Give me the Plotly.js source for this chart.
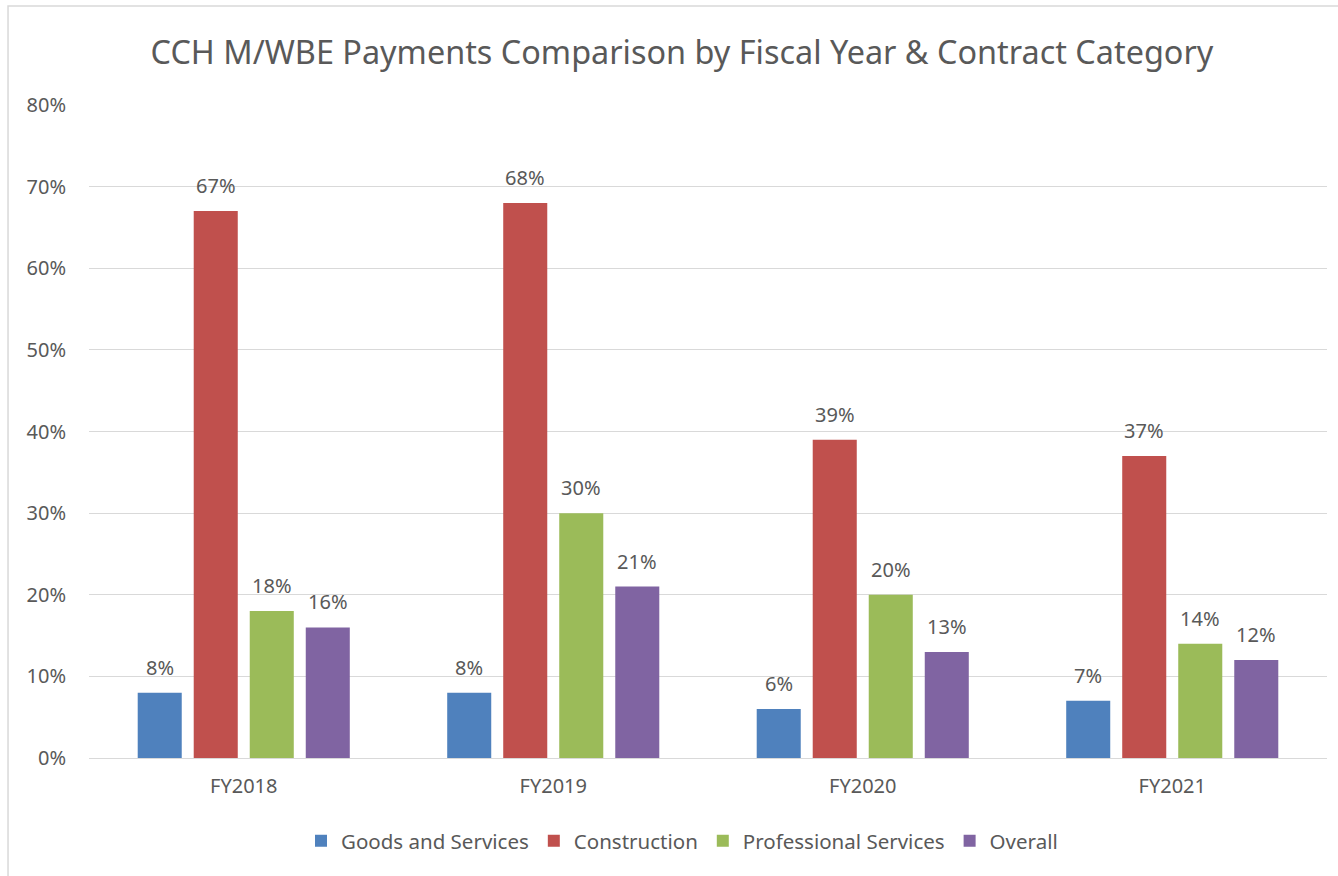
<!DOCTYPE html>
<html><head><meta charset="utf-8">
<script src="https://cdn.plot.ly/plotly-3.0.1.min.js"></script>
<style>html,body{margin:0;padding:0;background:#fff}#chart{width:1338px;height:876px}</style>
</head><body><div id="chart"></div>
<script>
const categories = ["FY2018", "FY2019", "FY2020", "FY2021"];
const goodsServices = [8, 8, 6, 7];
const construction = [67, 68, 39, 37];
const professionalServices = [18, 30, 20, 14];
const overall = [16, 21, 13, 12];
const seriesNames = ["Goods and Services", "Construction", "Professional Services", "Overall"];
const seriesColors = ["#4F81BD", "#C0504D", "#9BBB59", "#8064A2"];
const seriesValues = [goodsServices, construction, professionalServices, overall];

const FONT = "Noto Sans, Open Sans, sans-serif";
const GRAY = "#595959";
const BARGAP = 0.276;
const nSeries = seriesValues.length;

const traces = seriesValues.map((vals, i) => ({
  type: "bar",
  name: seriesNames[i],
  x: categories,
  y: vals,
  marker: {color: seriesColors[i]},
  hoverinfo: "x+y+name"
}));

// data labels: placed at each bar's centre within the group, computed from the group geometry
const annotations = [];
seriesValues.forEach((vals, i) => {
  const off = (i - (nSeries - 1) / 2) * (1 - BARGAP) / nSeries;
  vals.forEach((v, j) => {
    annotations.push({
      x: j + off, y: v, xref: "x", yref: "y",
      text: v + "%", showarrow: false, yanchor: "bottom", yshift: 10,
      font: {family: FONT, size: 20, color: GRAY}
    });
  });
});

const layout = {
  width: 1338, height: 876,
  margin: {l: 89, r: 11, t: 105, b: 118},
  paper_bgcolor: "#fff", plot_bgcolor: "#fff",
  font: {family: FONT, color: GRAY},
  title: {text: "CCH M/WBE Payments Comparison by Fiscal Year &amp; Contract Category",
          font: {family: FONT, size: 32.4, color: GRAY}, x: 0.5097, xanchor: "center", y: 0.94, yanchor: "middle"},
  barmode: "group", bargap: BARGAP, bargroupgap: 0.214,
  xaxis: {tickfont: {family: FONT, size: 20, color: GRAY}, showgrid: false, zeroline: false,
          showline: false, ticks: "", ticklen: 0, ticklabelstandoff: 14},
  yaxis: {range: [0, 80], dtick: 10, ticksuffix: "%", tickfont: {family: FONT, size: 20, color: GRAY},
          gridcolor: "#D9D9D9", gridwidth: 1.3, zeroline: true, zerolinecolor: "#D9D9D9", zerolinewidth: 1.3,
          showline: false, ticks: "", ticklabelstandoff: 22},
  showlegend: true,
  legend: {orientation: "h", x: 0.479, xanchor: "center", y: -0.127, yanchor: "middle",
           font: {family: FONT, size: 20.5, color: GRAY}, traceorder: "normal", itemwidth: 30},
  annotations: annotations,
  shapes: [{type: "rect", xref: "paper", yref: "paper", x0: -0.0654, x1: 1.2, y0: -0.5, y1: 1.1516,
            line: {color: "#D9D9D9", width: 1.5}, fillcolor: "rgba(0,0,0,0)", layer: "below"}]
};

Plotly.newPlot("chart", traces, layout, {displayModeBar: false, responsive: false});
</script></body></html>
